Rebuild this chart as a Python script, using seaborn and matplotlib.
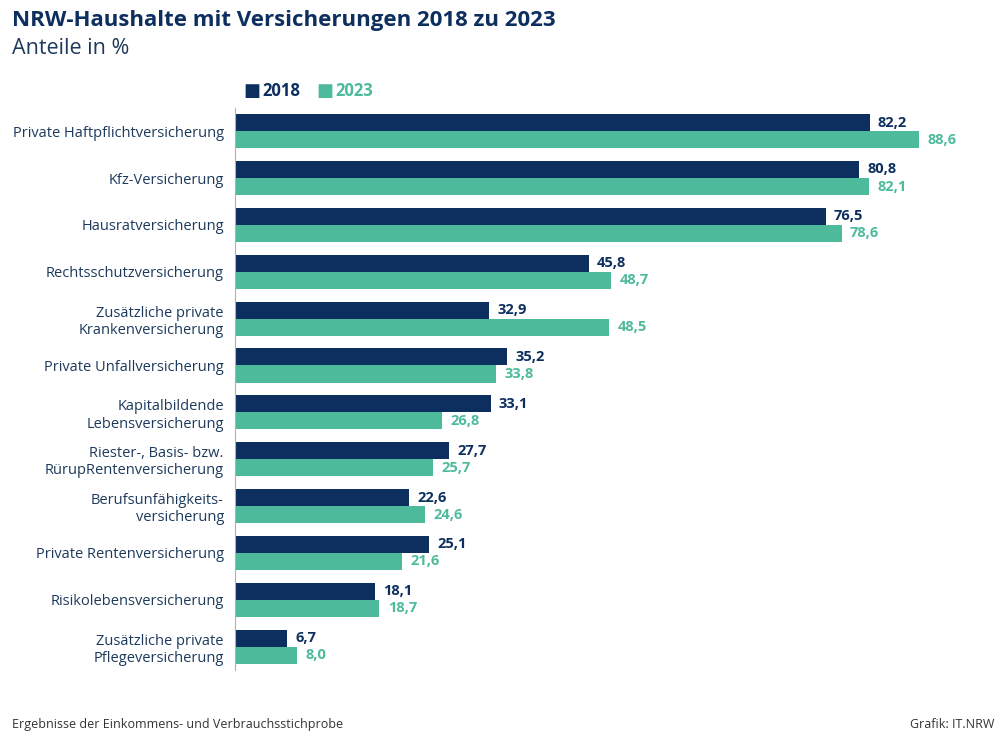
import pandas as pd
import matplotlib.pyplot as plt
import seaborn as sns

# Data
categories = [
    "Private Haftpflichtversicherung",
    "Kfz-Versicherung",
    "Hausratversicherung",
    "Rechtsschutzversicherung",
    "Zusätzliche private\nKrankenversicherung",
    "Private Unfallversicherung",
    "Kapitalbildende\nLebensversicherung",
    "Riester-, Basis- bzw.\nRürupRentenversicherung",
    "Berufsunfähigkeits-\nversicherung",
    "Private Rentenversicherung",
    "Risikolebensversicherung",
    "Zusätzliche private\nPflegeversicherung",
]
values_2018 = [82.2, 80.8, 76.5, 45.8, 32.9, 35.2, 33.1, 27.7, 22.6, 25.1, 18.1, 6.7]
values_2023 = [88.6, 82.1, 78.6, 48.7, 48.5, 33.8, 26.8, 25.7, 24.6, 21.6, 18.7, 8.0]
years = ["2018", "2023"]

NAVY = "#0d2f5f"
TEAL = "#4dbb9b"
TEXT = "#1d3a5c"

df = pd.DataFrame({
    "Kategorie": categories * 2,
    "Jahr": [years[0]] * len(categories) + [years[1]] * len(categories),
    "Wert": values_2018 + values_2023,
})

sns.set_style("white")
plt.rcParams['font.family'] = ['Open Sans', 'DejaVu Sans']

fig = plt.figure(figsize=(10, 7.38), dpi=100)
ax = fig.add_axes([0.235, 0.092, 0.765, 0.762])

sns.barplot(data=df, y="Kategorie", x="Wert", hue="Jahr", orient="h",
            palette=[NAVY, TEAL], width=0.73, saturation=1, legend=False,
            linewidth=0, ax=ax)

ax.set_xlim(0, 99.1)
ax.set_xlabel("")
ax.set_ylabel("")
ax.set_xticks([])
ax.tick_params(axis="y", length=0, pad=8)
for lbl in ax.get_yticklabels():
    lbl.set_fontsize(10.5)
    lbl.set_color(TEXT)
    lbl.set_horizontalalignment("right")
for side in ["top", "right", "bottom"]:
    ax.spines[side].set_visible(False)
ax.spines["left"].set_color("#b0b0b0")
ax.spines["left"].set_linewidth(0.8)

# value labels
for container, col in zip(ax.containers, [NAVY, TEAL]):
    labels = [f"{v:.1f}".replace(".", ",") for v in container.datavalues]
    ax.bar_label(container, labels=labels, padding=6, color=col,
                 fontsize=10.5, fontweight="bold")

# title, subtitle, legend, footer
fig.text(0.012, 0.972, "NRW-Haushalte mit Versicherungen 2018 zu 2023",
         fontsize=16, fontweight="bold", color=NAVY, va="center")
fig.text(0.012, 0.934, "Anteile in %", fontsize=15.5, color=TEXT, va="center")

fig.text(0.243, 0.877, "\u25a0", fontsize=13, color=NAVY, va="center")
fig.text(0.262, 0.877, "2018", fontsize=12, fontweight="bold", color=NAVY, va="center")
fig.text(0.316, 0.877, "\u25a0", fontsize=13, color=TEAL, va="center")
fig.text(0.335, 0.877, "2023", fontsize=12, fontweight="bold", color=TEAL, va="center")

fig.text(0.012, 0.009, "Ergebnisse der Einkommens- und Verbrauchsstichprobe",
         fontsize=9, color="#333333", va="bottom")
fig.text(0.994, 0.009, "Grafik: IT.NRW", fontsize=9, color="#333333",
         va="bottom", ha="right")

fig.savefig("out.png", dpi=100)
